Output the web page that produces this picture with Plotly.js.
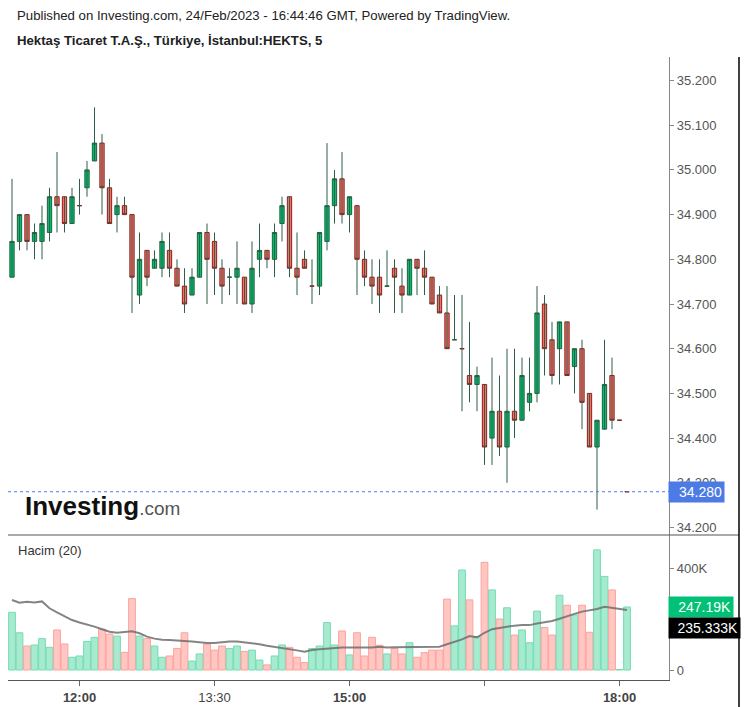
<!DOCTYPE html>
<html><head><meta charset="utf-8">
<script src="https://cdn.plot.ly/plotly-3.0.1.min.js"></script>
<style>html,body{margin:0;padding:0;background:#fff}#chart{width:747px;height:707px}</style>
</head><body><div id="chart"></div>
<script>
const day = '2023-02-24 ';
const times = ['11:15','11:20','11:25','11:30','11:35','11:40','11:45','11:50','11:55',
'12:00','12:05','12:10','12:15','12:20','12:25','12:30','12:35','12:40','12:45','12:50','12:55',
'13:00','13:05','13:10','13:15','13:20','13:25','13:30','13:35','13:40','13:45','13:50','13:55',
'14:00','14:05','14:10','14:15','14:20','14:25','14:30','14:35','14:40','14:45','14:50','14:55',
'15:00','15:05','15:10','15:15','15:20','15:25','15:30','15:35','15:40','15:45','15:50','15:55',
'16:00','16:05','16:10','16:15','16:20','16:25','16:30','16:35','16:40','16:45','16:50','16:55',
'17:00','17:05','17:10','17:15','17:20','17:25','17:30','17:35','17:40','17:45','17:50','17:55',
'18:00','18:05'];
const opens = [34.76,34.84,34.90,34.84,34.84,34.86,34.94,34.94,34.88,34.92,34.96,35.02,35.06,34.96,34.90,34.92,34.90,34.72,34.82,34.78,
34.78,34.82,34.78,34.74,34.72,34.76,34.86,34.84,34.78,34.76,34.76,34.76,34.70,34.80,34.82,34.80,34.88,34.94,34.78,34.80,
34.74,34.74,34.84,34.92,34.98,34.90,34.92,34.80,34.76,34.76,34.74,34.78,34.74,34.72,34.80,34.78,34.76,34.72,34.68,34.62,
34.60,34.54,34.52,34.52,34.40,34.46,34.38,34.46,34.44,34.48,34.50,34.70,34.62,34.60,34.66,34.56,34.60,34.50,34.38,34.42,
34.54,34.44,34.28];
const highs = [34.98,34.90,34.90,34.88,34.92,34.96,35.04,34.94,34.96,34.98,35.02,35.14,35.08,34.98,34.94,34.94,34.90,34.86,34.82,34.82,
34.86,34.86,34.80,34.78,34.78,34.86,34.88,34.86,34.80,34.78,34.84,34.76,34.84,34.88,34.82,34.88,34.94,34.94,34.86,34.82,
34.80,34.86,35.06,35.00,35.04,34.94,34.92,34.82,34.80,34.80,34.82,34.80,34.78,34.80,34.80,34.82,34.76,34.74,34.74,34.72,
34.72,34.66,34.56,34.52,34.58,34.54,34.60,34.60,34.58,34.58,34.74,34.72,34.66,34.66,34.66,34.60,34.62,34.50,34.44,34.62,
34.58,34.44,34.28];
const lows = [34.76,34.82,34.82,34.80,34.80,34.84,34.86,34.86,34.88,34.90,34.94,35.02,34.90,34.88,34.86,34.90,34.68,34.70,34.74,34.78,
34.76,34.76,34.74,34.68,34.72,34.76,34.70,34.72,34.70,34.72,34.70,34.70,34.68,34.76,34.78,34.76,34.84,34.76,34.72,34.78,
34.70,34.72,34.82,34.88,34.88,34.86,34.72,34.74,34.70,34.68,34.74,34.68,34.68,34.72,34.72,34.72,34.70,34.68,34.60,34.62,
34.46,34.48,34.46,34.34,34.34,34.36,34.30,34.40,34.44,34.46,34.48,34.54,34.52,34.52,34.54,34.50,34.42,34.38,34.24,34.42,
34.42,34.44,34.28];
const closes = [34.84,34.90,34.84,34.86,34.88,34.94,34.92,34.88,34.94,34.92,35.00,35.06,34.96,34.88,34.92,34.90,34.76,34.80,34.76,34.80,
34.84,34.78,34.74,34.70,34.76,34.86,34.80,34.78,34.74,34.76,34.78,34.70,34.78,34.82,34.80,34.86,34.92,34.78,34.76,34.78,
34.74,34.86,34.92,34.98,34.90,34.94,34.80,34.76,34.74,34.72,34.74,34.76,34.72,34.80,34.78,34.76,34.70,34.68,34.60,34.62,
34.60,34.52,34.54,34.38,34.46,34.38,34.46,34.44,34.54,34.50,34.68,34.60,34.54,34.66,34.54,34.60,34.48,34.38,34.44,34.52,
34.44,34.44,34.28];
// volume, thousands
const volumeK = [226,146,94,98,123,89,157,102,50,55,112,128,160,141,133,69,280,133,123,94,
50,55,84,146,35,63,102,78,94,84,94,73,78,39,20,55,98,89,50,29,
84,94,186,98,153,59,146,55,128,97,63,84,63,107,50,68,78,78,278,173,
392,275,131,422,314,200,244,137,157,107,231,167,137,293,254,216,254,148,471,367,
314,2,247.19];
// Hacim (20) moving average, thousands
const volMaK = [274.5,264,268,265,269,242,226,212,196,186,179,170,160,150,146,148,152,144,131,123,
119,118,115,114,112,109,106,106,110,112,112,109,105,101,95,91,85,82,77,72,
78,81,84,86,88,88,88,88,88,91,88,89,89,91,91,91,91,91,101,110,
120,133,128,146,160,165,170,174,176,176,182,186,192,201,212,220,229,235,239,248,
244,238,235.333];
const lastPrice = 34.28;
const priceTicks = [34.2,34.3,34.4,34.5,34.6,34.7,34.8,34.9,35.0,35.1,35.2];
const timeTickVals = ['12:00','13:30','15:00','16:30','18:00'];
const timeTickText = ['<b>12:00</b>','13:30','<b>15:00</b>','','<b>18:00</b>'];

const X = times.map(t => day + t);
const bodyHi = opens.map((o,i) => Math.max(o, closes[i]));
const bodyLo = opens.map((o,i) => Math.min(o, closes[i]));
const wx = [], wy = [];
X.forEach((x,i) => { wx.push(x,x,null); wy.push(highs[i],lows[i],null); });
const up = closes.map((c,i) => c >= opens[i]);

const W = 747, H = 707, L = 8, R = 669, T = 57, B = 680;
const px = v => (v - L) / (R - L);
const py = v => (B - v) / (B - T);
const split = py(535);

const traces = [
  {type:'scatter', mode:'lines', x:wx, y:wy, xaxis:'x', yaxis:'y',
   line:{color:'#2f5f47', width:1}, hoverinfo:'skip', showlegend:false},
  {type:'candlestick', x:X, open:opens, high:bodyHi, low:bodyLo, close:closes, xaxis:'x', yaxis:'y',
   increasing:{line:{color:'#22603f', width:1}, fillcolor:'#00c070'},
   decreasing:{line:{color:'#7d2626', width:1}, fillcolor:'#ff6a5e'},
   whiskerwidth:0, hoverinfo:'skip', showlegend:false},
  {type:'bar', x:X, y:volumeK.map(v => v*1000), xaxis:'x', yaxis:'y2',
   marker:{color: up.map(u => u ? '#a6ead0' : '#ffc7c3'),
           line:{color: up.map(u => u ? '#74dcb2' : '#ffa09a'), width:1}},
   hoverinfo:'skip', showlegend:false},
  {type:'scatter', mode:'lines', x:X, y:volMaK.map(v => v*1000), xaxis:'x', yaxis:'y2',
   line:{color:'rgba(110,110,110,0.85)', width:2}, hoverinfo:'skip', showlegend:false}
];

const font = 'Liberation Sans, Arial, sans-serif';
const layout = {
  width:W, height:H, margin:{l:L, r:W-R, t:T, b:H-B},
  paper_bgcolor:'#fff', plot_bgcolor:'#fff', showlegend:false,
  font:{family:font, color:'#444', size:13},
  boxgap:0.18, bargap:0.1,
  xaxis:{type:'date', anchor:'y2', range:[day+'11:12:20', day+'18:33:00'],
    rangeslider:{visible:false}, showgrid:false, zeroline:false,
    showline:true, linecolor:'#555', linewidth:1.2,
    ticks:'outside', ticklen:5, tickcolor:'#666',
    tickvals: timeTickVals.map(t => day + t), ticktext: timeTickText,
    tickfont:{family:font, size:13, color:'#444'}},
  yaxis:{domain:[split,1], side:'right', range:[34.1832, 35.2526],
    showgrid:false, zeroline:false, showline:true, linecolor:'#888', linewidth:1.2,
    ticks:'outside', ticklen:4, tickcolor:'#888',
    tickvals: priceTicks, tickformat:'.3f',
    tickfont:{family:font, size:13, color:'#555'}},
  yaxis2:{domain:[0,split], side:'right', range:[-39200, 529400],
    showgrid:false, zeroline:false, showline:true, linecolor:'#888', linewidth:1.2,
    ticks:'outside', ticklen:4, tickcolor:'#888',
    tickvals:[0,400000], ticktext:['0','400K'],
    tickfont:{family:font, size:13, color:'#555'}},
  shapes:[
    {type:'line', xref:'paper', yref:'y', x0:0, x1:1, y0:lastPrice, y1:lastPrice,
     line:{color:'#4d7be6', width:1, dash:'dot'}},
    {type:'line', xref:'paper', yref:'paper', x0:0, x1:px(739), y0:split, y1:split,
     line:{color:'#555', width:1.2}},
    {type:'line', xref:'paper', yref:'paper', x0:px(739), x1:px(739), y0:py(57), y1:py(707),
     line:{color:'#000', width:1.5}}
  ],
  annotations:[
    {xref:'paper', yref:'paper', x:px(15), y:py(16), xanchor:'left', yanchor:'middle', showarrow:false,
     text:'Published on Investing.com, 24/Feb/2023 - 16:44:46 GMT, Powered by TradingView.',
     font:{family:font, size:13.2, color:'#222'}},
    {xref:'paper', yref:'paper', x:px(15), y:py(40), xanchor:'left', yanchor:'middle', showarrow:false,
     text:'<b>Hektaş Ticaret T.A.Ş., Türkiye, İstanbul:HEKTS, 5</b>',
     font:{family:font, size:13.2, color:'#222'}},
    {xref:'paper', yref:'paper', x:px(16), y:py(550), xanchor:'left', yanchor:'middle', showarrow:false,
     text:'Hacim (20)', font:{family:font, size:13, color:'#333'}},
    {xref:'paper', yref:'paper', x:px(23), y:py(506), xanchor:'left', yanchor:'middle', showarrow:false,
     text:'<b>Investing</b><span style="font-size:19px;color:#555;font-weight:normal">.com</span>',
     font:{family:font, size:26, color:'#111'}},
    {xref:'paper', yref:'y', x:px(668), y:lastPrice, xanchor:'left', yanchor:'middle', showarrow:false,
     text:'34.280', width:51, height:16, align:'right', borderpad:2, bgcolor:'#4d7be6',
     font:{family:font, size:14, color:'#fff'}},
    {xref:'paper', yref:'y2', x:px(668), y:247190, xanchor:'left', yanchor:'middle', showarrow:false,
     text:'247.19K', width:60, height:16, align:'right', borderpad:2, bgcolor:'#00c176',
     font:{family:font, size:14, color:'#fff'}},
    {xref:'paper', yref:'paper', x:px(668), y:py(628), xanchor:'left', yanchor:'middle', showarrow:false,
     text:'235.333K', width:67, height:16, align:'right', borderpad:2, bgcolor:'#000',
     font:{family:font, size:14, color:'#fff'}}
  ]
};
Plotly.newPlot('chart', traces, layout, {staticPlot:true, displayModeBar:false});
</script></body></html>
